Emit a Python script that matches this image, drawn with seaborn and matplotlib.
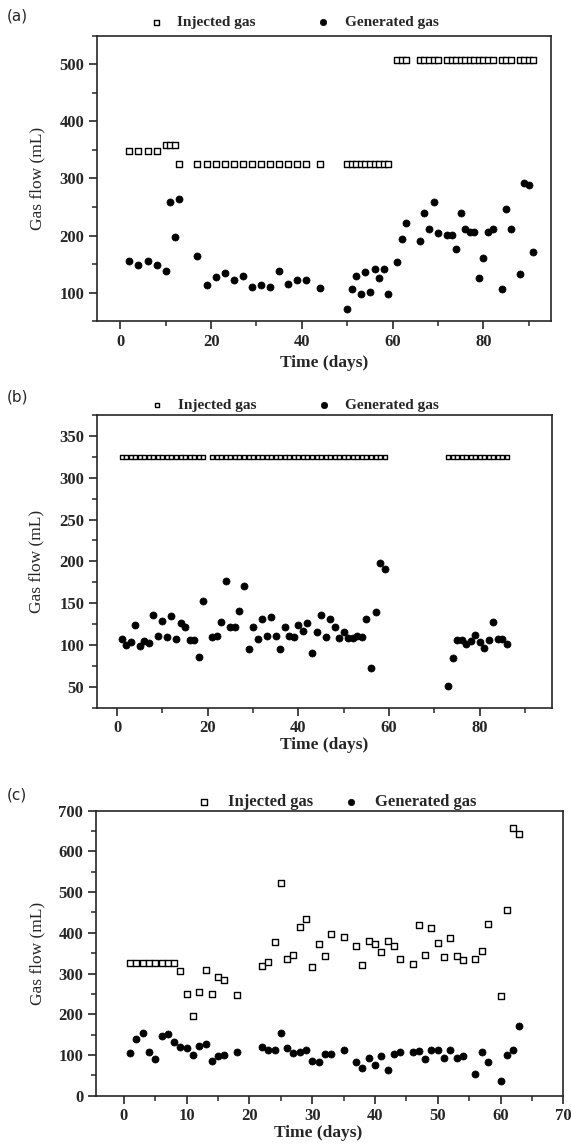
import numpy as np
import pandas as pd
import seaborn as sns
import matplotlib.pyplot as plt
from matplotlib.ticker import MultipleLocator

sns.set_style('ticks')
plt.rcParams['font.family'] = ['Liberation Serif', 'DejaVu Serif']

# ---------------- (a) ----------------
a_inj_day = [2, 4, 6, 8,
             10, 11, 12,
             13, 17, 19, 21, 23, 25, 27, 29, 31, 33, 35, 37, 39, 41, 44,
             50, 51, 52, 53, 54, 55, 56, 57, 58, 59,
             61, 62, 63, 66, 67, 68, 69, 70,
             72, 73, 74, 75, 76, 77, 78, 79, 80, 81, 82,
             84, 85, 86, 88, 89, 90, 91]
a_inj_val = [348, 348, 348, 348,
             358, 358, 358,
             326, 326, 326, 326, 326, 326, 326, 326, 326, 326, 326, 326, 326, 326, 326,
             326, 326, 326, 326, 326, 326, 326, 326, 326, 326,
             507, 507, 507, 507, 507, 507, 507, 507,
             507, 507, 507, 507, 507, 507, 507, 507, 507, 507, 507,
             507, 507, 507, 507, 507, 507, 507]
a_gen_day = a_inj_day
a_gen_val = [156, 149, 156, 149,
             138, 258, 197,
             264, 164, 113, 127, 134, 122, 129, 110, 113, 110, 138, 116, 122, 122, 109,
             71, 106, 130, 97, 136, 102, 142, 126, 142, 98,
             154, 194, 222, 191, 240, 211, 258, 205,
             201, 201, 177, 240, 211, 206, 207, 125, 160, 206, 211,
             106, 246, 211, 132, 292, 289, 171]

# ---------------- (b) ----------------
b_inj_day = [1, 2, 3, 4, 5, 6, 7, 8, 9, 10, 11, 12, 13, 14, 15, 16, 17, 18, 19,
             21, 22, 23, 24, 25, 26, 27, 28, 29, 30, 31, 32, 33, 34, 35, 36, 37, 38, 39, 40,
             41, 42, 43, 44, 45, 46, 47, 48, 49, 50, 51, 52, 53, 54, 55, 56, 57, 58, 59,
             73, 74, 75, 76, 77, 78, 79, 80, 81, 82, 83, 84, 85, 86]
b_inj_val = [325] * 19 + [325] * 39 + [325] * 14
b_gen_day = b_inj_day
b_gen_val = [107, 100, 103, 124, 99, 105, 102, 136, 111, 129, 109, 135, 107, 126, 121, 106, 106, 86, 153,
             109, 111, 128, 176, 121, 121, 141, 171, 95, 121, 107, 131, 111, 134, 111, 95, 121, 111, 109, 124,
             117, 126, 91, 116, 136, 109, 131, 121, 108, 116, 108, 108, 111, 109, 131, 72, 140, 198, 191,
             51, 85, 106, 106, 101, 105, 112, 103, 96, 106, 127, 107, 107, 101]

# ---------------- (c) ----------------
c_day = [1, 2, 3, 4, 5, 6, 7, 8, 9, 10, 11, 12, 13, 14, 15, 16, 18,
         22, 23, 24, 25, 26, 27, 28, 29, 30, 31, 32, 33, 35,
         37, 38, 39, 40, 41, 42, 43, 44, 46, 47, 48, 49, 50, 51, 52, 53, 54,
         56, 57, 58, 60, 61, 62, 63]
c_inj_val = [327, 327, 327, 327, 327, 327, 327, 327, 306, 251, 196, 255, 310, 249, 292, 283, 247,
             319, 329, 377, 522, 337, 345, 415, 434, 317, 372, 342, 396, 391,
             368, 322, 381, 372, 352, 381, 368, 335, 324, 420, 345, 412, 374, 340, 388, 342, 333,
             337, 355, 422, 245, 455, 658, 644]
c_gen_val = [104, 139, 155, 108, 89, 147, 151, 131, 120, 116, 100, 122, 126, 86, 98, 100, 108,
             120, 112, 112, 153, 116, 104, 108, 112, 86, 84, 102, 102, 112,
             84, 69, 93, 75, 98, 63, 102, 107, 108, 111, 90, 112, 112, 93, 112, 92, 98,
             53, 108, 82, 36, 100, 112, 172]

fig = plt.figure(figsize=(5.71, 11.47), dpi=100)

tick_font = {'family': 'Liberation Serif', 'weight': 'bold', 'size': 12}


def panel(rect, day_i, val_i, day_g, val_g, xlim, ylim, xmaj, xmin, ymaj, ymin,
          leg_xy, colsp, legsize, sq, gmark, lab_x, xlab_xy, tag, tag_y):
    ax = fig.add_axes(rect)
    sns.scatterplot(x=day_i, y=val_i, ax=ax, marker='s', s=sq, color='white',
                    edgecolor='black', linewidth=1.0, label='Injected gas', zorder=3)
    sns.scatterplot(x=day_g, y=val_g, ax=ax, marker=gmark, s=26, color='black',
                    edgecolor='black', linewidth=0.5, label='Generated gas', zorder=3)
    ax.set_xlim(*xlim)
    ax.set_ylim(*ylim)
    ax.xaxis.set_major_locator(MultipleLocator(xmaj))
    ax.xaxis.set_minor_locator(MultipleLocator(xmin))
    ax.yaxis.set_major_locator(MultipleLocator(ymaj))
    ax.yaxis.set_minor_locator(MultipleLocator(ymin))
    ax.tick_params(which='major', direction='out', length=6, width=1.2, pad=3)
    ax.tick_params(which='minor', direction='out', length=3.5, width=1.1)
    for lab in ax.get_xticklabels() + ax.get_yticklabels():
        lab.set_fontproperties(tick_font)
    for sp in ax.spines.values():
        sp.set_linewidth(1.2)
        sp.set_visible(True)
    ax.set_ylabel('Gas flow (mL)', fontsize=12.5, family='Liberation Serif')
    ax.yaxis.set_label_coords(lab_x, 0.5)
    ax.set_xlabel('Time (days)', fontsize=12.5, family='Liberation Serif', weight='bold')
    ax.xaxis.set_label_coords(*xlab_xy)
    ax.legend(loc='center', bbox_to_anchor=leg_xy, ncol=2, frameon=False,
              prop={'family': 'Liberation Serif', 'weight': 'bold', 'size': legsize},
              columnspacing=colsp, handletextpad=0.4, borderaxespad=0, markerscale=0.9)
    fig.text(0.012, 1 - tag_y / 1147, tag, family='DejaVu Sans', fontsize=11, va='center')
    return ax


panel([0.1693, 0.7199, 0.7951, 0.2490], a_inj_day, a_inj_val, a_gen_day, a_gen_val,
      (-5.2, 94.8), (50, 550), 20, 10, 100, 50, (0.425, 1.048), 3.4, 11, 16, 'o',
      -0.114, (0.5, -0.118), '(a)', 16)
panel([0.1693, 0.3830, 0.7980, 0.2552], b_inj_day, b_inj_val, b_gen_day, b_gen_val,
      (-4.5, 96), (25, 375), 20, 10, 50, 25, (0.425, 1.034), 3.4, 11, 11, 'o',
      -0.114, (0.5, -0.100), '(b)', 397)
panel([0.1676, 0.0447, 0.8189, 0.2485], c_day, c_inj_val, c_day, c_gen_val,
      (-4.5, 70), (0, 700), 10, 5, 100, 50, (0.505, 1.03), 1.3, 12, 24, 'o',
      -0.108, (0.475, -0.103), '(c)', 795)

fig.savefig('out.png', dpi=100)
